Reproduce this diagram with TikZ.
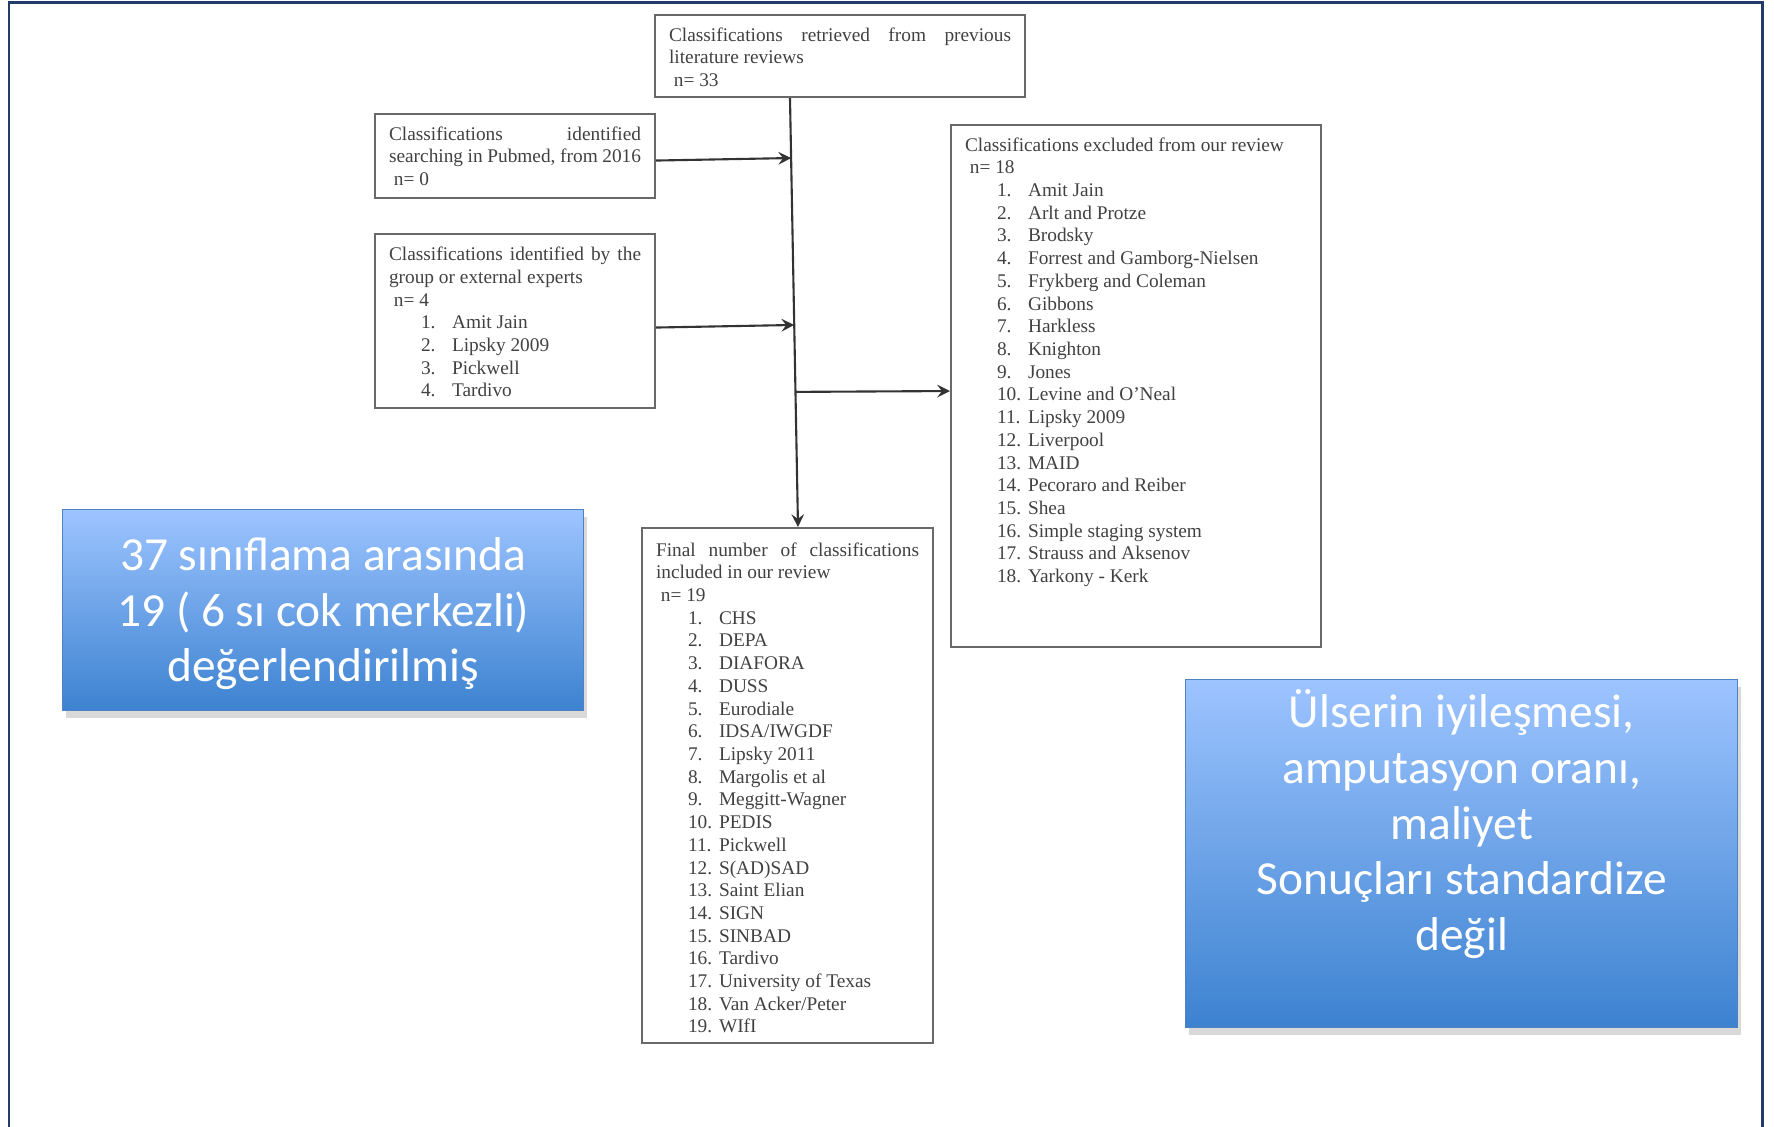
\documentclass[tikz,border=0pt]{standalone}
\usepackage{fontspec}
\setmainfont{Liberation Serif}
\newfontfamily\calibri{Carlito}
\usetikzlibrary{shadows,calc}
\definecolor{framenavy}{RGB}{33,60,104}
\definecolor{boxgray}{RGB}{105,105,105}
\definecolor{textgray}{RGB}{65,65,65}
\definecolor{bluetop}{RGB}{157,196,255}
\definecolor{bluebottom}{RGB}{60,130,208}
\definecolor{blueedge}{RGB}{80,130,195}

% one justified line, and one numbered entry
\newcommand{\jline}[1]{\makebox[\linewidth][s]{#1}}
\newcommand{\litem}[2]{\hspace*{0.32cm}\makebox[0.31cm][l]{#1}#2}

\begin{document}
\begin{tikzpicture}[
    box/.style={rectangle, draw=boxgray, line width=0.6pt, anchor=north west, inner xsep=0.14cm, inner ysep=0.1cm, text=textgray, font=\fontsize{5.5}{6.46}\selectfont, align=left},
    bluebox/.style={rectangle, draw=blueedge, line width=0.4pt, top color=bluetop, bottom color=bluebottom, text=white, font=\calibri\fontsize{13.5}{15.85}\selectfont, anchor=north west, inner sep=0pt, drop shadow={opacity=0.3, shadow xshift=0.03cm, shadow yshift=-0.07cm}},
    arrow/.style={->, >=stealth, line width=0.6pt, black!80}
]
    \useasboundingbox (0,0) rectangle (17.74,-11.27);
    % Slide frame
    \draw[framenavy, line width=0.85pt] (0.09,-11.27) -- (0.09,-0.03) -- (17.62,-0.03) -- (17.62,-11.27);

    % Flow boxes
    \node[box] (prev) at (6.54,-0.14) {\parbox[c][0.62cm][t]{3.42cm}{\vspace*{0.025cm}\jline{Classifications retrieved from previous}\\literature reviews\\\hspace*{0.25em}n= 33}};
    \node[box] (pubmed) at (3.74,-1.13) {\parbox[c][0.64cm][t]{2.52cm}{\vspace*{0.025cm}\jline{Classifications identified}\\\jline{searching in Pubmed, from 2016}\\\hspace*{0.25em}n= 0}};
    \node[box] (experts) at (3.74,-2.33) {\parbox[c][1.54cm][t]{2.52cm}{\vspace*{0.03cm}\jline{Classifications identified by the}\\group or external experts\\\hspace*{0.25em}n= 4\\
        \litem{1.}{Amit Jain}\\\litem{2.}{Lipsky 2009}\\\litem{3.}{Pickwell}\\\litem{4.}{Tardivo}}};
    \node[box] (excl) at (9.50,-1.24) {\parbox[c][5.02cm][t]{3.42cm}{\vspace*{0.025cm}Classifications excluded from our review\\\hspace*{0.25em}n= 18\\
        \litem{1.}{Amit Jain}\\\litem{2.}{Arlt and Protze}\\\litem{3.}{Brodsky}\\\litem{4.}{Forrest and Gamborg-Nielsen}\\
        \litem{5.}{Frykberg and Coleman}\\\litem{6.}{Gibbons}\\\litem{7.}{Harkless}\\\litem{8.}{Knighton}\\
        \litem{9.}{Jones}\\\litem{10.}{Levine and O'Neal}\\\litem{11.}{Lipsky 2009}\\\litem{12.}{Liverpool}\\
        \litem{13.}{MAID}\\\litem{14.}{Pecoraro and Reiber}\\\litem{15.}{Shea}\\\litem{16.}{Simple staging system}\\
        \litem{17.}{Strauss and Aksenov}\\\litem{18.}{Yarkony - Kerk}}};
    \node[box] (final) at (6.41,-5.27) {\parbox[c][4.95cm][t]{2.63cm}{\vspace*{0.045cm}\jline{Final number of classifications}\\included in our review\\\hspace*{0.25em}n= 19\\
        \litem{1.}{CHS}\\\litem{2.}{DEPA}\\\litem{3.}{DIAFORA}\\\litem{4.}{DUSS}\\\litem{5.}{Eurodiale}\\
        \litem{6.}{IDSA/IWGDF}\\\litem{7.}{Lipsky 2011}\\\litem{8.}{Margolis et al}\\\litem{9.}{Meggitt-Wagner}\\
        \litem{10.}{PEDIS}\\\litem{11.}{Pickwell}\\\litem{12.}{S(AD)SAD}\\\litem{13.}{Saint Elian}\\\litem{14.}{SIGN}\\
        \litem{15.}{SINBAD}\\\litem{16.}{Tardivo}\\\litem{17.}{University of Texas}\\\litem{18.}{Van Acker/Peter}\\\litem{19.}{WIfI}}};

    % Trunk and arrows
    \coordinate (trunkA) at (7.90,-0.96);
    \coordinate (trunkB) at (7.98,-5.27);
    \draw[arrow] (prev.south -| trunkA) -- (final.north -| trunkB);
    \draw[arrow] ([yshift=-0.045cm]pubmed.east) -- ($(trunkA)!([yshift=-0.045cm]pubmed.east)!(trunkB)$);
    \draw[arrow] ([yshift=-0.065cm]experts.east) -- ($(trunkA)!([yshift=-0.065cm]experts.east)!(trunkB)$);
    \draw[arrow] ($(trunkA)!([yshift=-0.03cm]excl.west)!(trunkB)$) -- ([yshift=-0.05cm]excl.west);

    % Blue notes
    \node[bluebox, minimum width=5.21cm, minimum height=2.01cm] (summary) at (0.62,-5.09) {\parbox[c][2.01cm][c]{5.21cm}{\centering\vspace*{0.07cm}37 sınıflama arasında\\19 ( 6 sı cok merkezli)\\değerlendirilmiş}};
    \node[bluebox, minimum width=5.52cm, minimum height=3.48cm] (outcome) at (11.85,-6.79) {\parbox[c][3.48cm][t]{5.52cm}{\centering\vspace*{0.1cm}Ülserin iyileşmesi,\\amputasyon oranı,\\maliyet\\Sonuçları standardize\\değil}};
\end{tikzpicture}
\end{document}
